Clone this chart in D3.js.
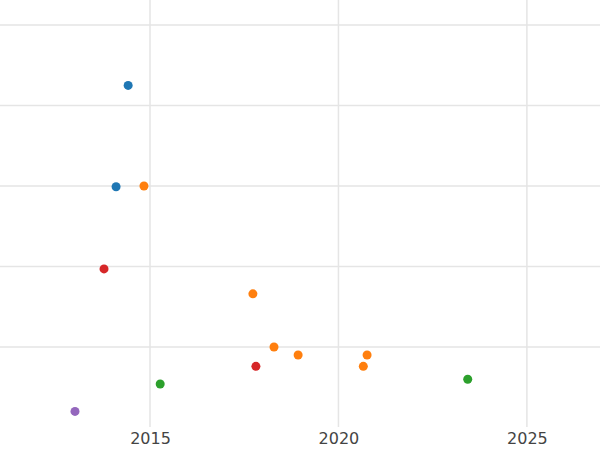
<!DOCTYPE html>
<html>
<head>
<meta charset="utf-8">
<script src="https://cdn.jsdelivr.net/npm/d3@7"></script>
<style>
  body { margin: 0; background: #fff; }
  text { font-family: "DejaVu Sans", sans-serif; }
</style>
</head>
<body>
<svg id="chart"></svg>
<script>
// data
const years  = [2014.42, 2014.10, 2014.84, 2013.78, 2017.73, 2018.29, 2018.93, 2020.76, 2020.66, 2017.81, 2023.43, 2015.27, 2013.01];
const values = [4.25, 2.99, 3.00, 1.97, 1.66, 1.00, 0.90, 0.90, 0.76, 0.76, 0.60, 0.54, 0.20];
const groups = ["a", "a", "b", "c", "b", "b", "b", "b", "b", "c", "d", "d", "e"];
const groupColors = { a: "#1f77b4", b: "#ff7f0e", c: "#d62728", d: "#2ca02c", e: "#9467bd" };
const xTicks = [2015, 2020, 2025];
const yTicks = [1, 2, 3, 4, 5];

const width = 600, height = 450;
const svg = d3.select("#chart").attr("width", width).attr("height", height);

const x = d3.scaleLinear().domain([2011.02, 2026.94]).range([0, width]);
const y = d3.scaleLinear().domain([0, 5]).range([427.5, 25]);

// grid
svg.append("g").selectAll("line").data(xTicks).join("line")
  .attr("x1", d => x(d)).attr("x2", d => x(d))
  .attr("y1", 0).attr("y2", 427)
  .attr("stroke", "#e5e5e5").attr("stroke-width", 1.5);
svg.append("g").selectAll("line").data(yTicks).join("line")
  .attr("x1", 0).attr("x2", width)
  .attr("y1", d => y(d)).attr("y2", d => y(d))
  .attr("stroke", "#e5e5e5").attr("stroke-width", 1.5);

// x axis labels
const xAxis = d3.axisBottom(x).tickValues(xTicks).tickFormat(d3.format("d")).tickSize(0).tickPadding(6);
const gx = svg.append("g").attr("transform", "translate(0,427)").call(xAxis);
gx.select(".domain").remove();
gx.selectAll("text").attr("font-size", 16).attr("fill", "#444")
  .style("font-family", "DejaVu Sans, sans-serif");

// points
svg.append("g").selectAll("circle").data(years).join("circle")
  .attr("cx", (d, i) => x(d))
  .attr("cy", (d, i) => y(values[i]))
  .attr("r", 4.5)
  .attr("fill", (d, i) => groupColors[groups[i]]);
</script>
</body>
</html>
